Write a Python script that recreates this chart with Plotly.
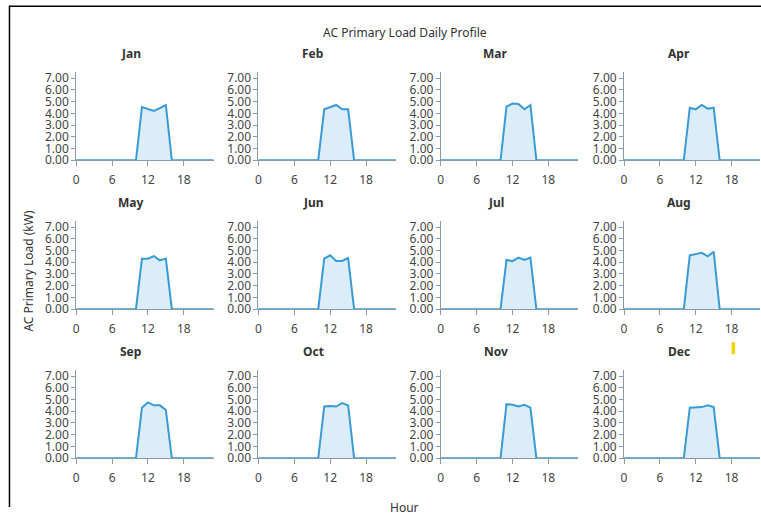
import plotly.graph_objects as go

W, H = 761, 515

months = ["Jan", "Feb", "Mar", "Apr", "May", "Jun", "Jul", "Aug", "Sep", "Oct", "Nov", "Dec"]
hours = list(range(24))

# load values (kW) for hours 11..15; all other hours are 0
jan = [4.54, 4.37, 4.20, 4.45, 4.71]
feb = [4.34, 4.52, 4.71, 4.34, 4.34]
mar = [4.57, 4.83, 4.80, 4.34, 4.71]
apr = [4.48, 4.34, 4.71, 4.40, 4.48]
may = [4.31, 4.31, 4.53, 4.16, 4.31]
jun = [4.31, 4.59, 4.11, 4.11, 4.36]
jul = [4.20, 4.10, 4.40, 4.20, 4.40]
aug = [4.60, 4.70, 4.80, 4.50, 4.90]
sep = [4.30, 4.75, 4.50, 4.50, 4.10]
oct_ = [4.40, 4.45, 4.40, 4.70, 4.50]
nov = [4.60, 4.55, 4.40, 4.55, 4.30]
dec = [4.30, 4.30, 4.35, 4.50, 4.35]
peak_hours = [11, 12, 13, 14, 15]
series = [jan, feb, mar, apr, may, jun, jul, aug, sep, oct_, nov, dec]

x_ticks = [0, 6, 12, 18]
y_ticks = [0, 1, 2, 3, 4, 5, 6, 7]

col_x0 = [76, 259, 442, 626]
row_yb = [160, 309, 458]
PX_PER_HOUR = 6.0
PH = 88

# screen-pixel -> paper fraction (with small empirical correction for page rendering)
def px(x):
    return min(max((x - 2.5) / W, 0), 1)

def py(y):
    return min(max(1 - ((y - 2.7) / 0.979) / H, 0), 1)

FONT = "Noto Sans"

fig = go.Figure()
annotations = []
for i, (m, vals) in enumerate(zip(months, series)):
    r, c = divmod(i, 4)
    n = i + 1
    xa = "x" if n == 1 else f"x{n}"
    ya = "y" if n == 1 else f"y{n}"
    prof = [0.0] * 24
    for h, v in zip(peak_hours, vals):
        prof[h] = v
    fig.add_trace(go.Scatter(
        x=hours, y=prof, mode="lines", xaxis=xa, yaxis=ya,
        line=dict(color="#3a9ad6", width=2),
        fill="tozeroy", fillcolor="rgba(58,154,214,0.18)",
        showlegend=False, hoverinfo="skip", cliponaxis=False))
    x0 = col_x0[c]
    x1 = min(x0 + 23 * PX_PER_HOUR, W + 1.5)
    xmax = (x1 - x0) / PX_PER_HOUR
    yb = row_yb[r]
    axcommon = dict(showgrid=False, zeroline=False, showline=True,
                    linecolor="#8a9aa6", linewidth=1, ticks="outside",
                    tickcolor="#8a9aa6",
                    tickfont=dict(family=FONT, size=12, color="#444"))
    fig.layout[("xaxis" if n == 1 else f"xaxis{n}")] = dict(
        domain=[px(x0), px(x1)], anchor=ya, range=[0, xmax],
        tickvals=x_ticks, ticklen=5, ticklabelstandoff=3, **axcommon)
    fig.layout[("yaxis" if n == 1 else f"yaxis{n}")] = dict(
        domain=[py(yb), py(yb - PH)], anchor=xa, range=[0, 7.5],
        tickvals=y_ticks, tickformat=".2f", ticklen=4, **axcommon)
    annotations.append(dict(
        x=px(x0 + 55), y=py(yb - 107), xref="paper", yref="paper",
        xanchor="center", yanchor="middle",
        text=f"<b>{m}</b>", showarrow=False,
        font=dict(family=FONT, size=12, color="#333")))

annotations += [
    dict(x=px(406), y=py(32), xref="paper", yref="paper",
         xanchor="center", yanchor="middle",
         text="AC Primary Load Daily Profile", showarrow=False,
         font=dict(family=FONT, size=12, color="#333")),
    dict(x=px(406), y=py(508), xref="paper", yref="paper",
         xanchor="center", yanchor="middle",
         text="Hour", showarrow=False,
         font=dict(family=FONT, size=12, color="#333")),
    dict(x=px(28), y=py(270), xref="paper", yref="paper",
         xanchor="center", yanchor="middle",
         text="AC Primary Load (kW)", showarrow=False, textangle=-90,
         font=dict(family=FONT, size=12, color="#333")),
]

shapes = [
    dict(type="line", xref="paper", yref="paper", x0=px(8.5), x1=1,
         y0=py(6), y1=py(6), line=dict(color="black", width=1.5)),
    dict(type="line", xref="paper", yref="paper", x0=px(9), x1=px(9),
         y0=py(5.5), y1=0, line=dict(color="black", width=1.5)),
    dict(type="rect", xref="paper", yref="paper", x0=px(734), x1=px(737.5),
         y0=py(354), y1=py(342), fillcolor="#f0d400", line=dict(width=0)),
]

fig.update_layout(
    width=W, height=H, margin=dict(l=0, r=0, t=0, b=0),
    paper_bgcolor="white", plot_bgcolor="white",
    annotations=annotations, shapes=shapes)

fig.write_html(
    "out.html",
    config={"displayModeBar": False},
    post_script=("document.body.style.margin='0';"
                 "document.body.style.overflow='hidden';"
                 "document.documentElement.style.overflow='hidden';"))
